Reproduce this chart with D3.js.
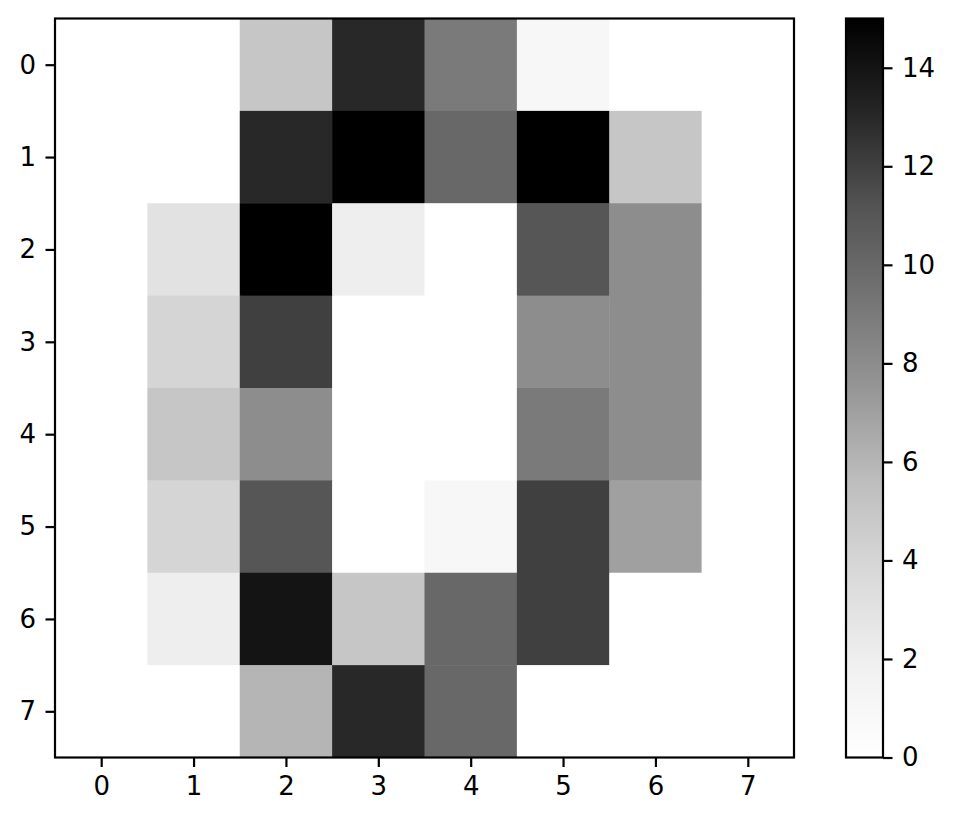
<!DOCTYPE html>
<html><head><meta charset="utf-8">
<script src="https://cdn.jsdelivr.net/npm/d3@7"></script>
<style>body{margin:0;background:#fff}svg{display:block}text{font-family:"DejaVu Sans",sans-serif;fill:#000}</style>
</head><body>
<script>
const rowLabels = [0,1,2,3,4,5,6,7];
const colLabels = [0,1,2,3,4,5,6,7];
const pixels = [
  [0,0,5,13,9,1,0,0],
  [0,0,13,15,10,15,5,0],
  [0,3,15,2,0,11,8,0],
  [0,4,12,0,0,8,8,0],
  [0,5,8,0,0,9,8,0],
  [0,4,11,0,1,12,7,0],
  [0,2,14,5,10,12,0,0],
  [0,0,6,13,10,0,0,0]
];
const colorTicks = [0,2,4,6,8,10,12,14];
const vmin = 0, vmax = 15;
const greysStops = ["#ffffff","#f0f0f0","#d9d9d9","#bdbdbd","#969696","#737373","#525252","#252525","#000000"];

const W = 954, H = 822;
const L = 55, T = 18.5, R = 794, B = 757.5;
const FS = "26px", TL = 9.5, TP = 9.5, LW = 2.2;
const svg = d3.select("body").append("svg").attr("width", W).attr("height", H);

const color = d3.scaleLinear()
  .domain(greysStops.map((_, i) => vmin + (vmax - vmin) * i / (greysStops.length - 1)))
  .range(greysStops).interpolate(d3.interpolateRgb).clamp(true);

const x = d3.scaleLinear().domain([-0.5, 7.5]).range([L, R]);
const y = d3.scaleLinear().domain([-0.5, 7.5]).range([T, B]);

const cells = [];
pixels.forEach((row, r) => row.forEach((v, c) => cells.push({r, c, v})));
svg.append("g").selectAll("rect").data(cells).join("rect")
  .attr("x", d => x(d.c - 0.5)).attr("y", d => y(d.r - 0.5))
  .attr("width", x(1) - x(0) + 0.5).attr("height", y(1) - y(0) + 0.5)
  .attr("fill", d => color(d.v));

function styleAxis(g) {
  g.select(".domain").remove();
  g.selectAll(".tick line").attr("stroke", "#000").attr("stroke-width", LW);
  g.selectAll(".tick text").style("font-family", '"DejaVu Sans",sans-serif').style("font-size", FS).attr("fill", "#000");
}
const xAxis = d3.axisBottom(x).tickValues(colLabels).tickSize(TL).tickPadding(TP).tickFormat(d3.format("d"));
const yAxis = d3.axisLeft(y).tickValues(rowLabels).tickSize(TL).tickPadding(TP).tickFormat(d3.format("d"));
const gx = svg.append("g").attr("transform", `translate(0,${B})`).call(xAxis);
const gy = svg.append("g").attr("transform", `translate(${L},0)`).call(yAxis);
styleAxis(gx); styleAxis(gy);
svg.append("rect").attr("x", L).attr("y", T).attr("width", R - L).attr("height", B - T)
  .attr("fill", "none").attr("stroke", "#000").attr("stroke-width", LW);

// colorbar
const CL = 846, CR = 883;
const cy = d3.scaleLinear().domain([vmin, vmax]).range([B, T]);
const defs = svg.append("defs");
const grad = defs.append("linearGradient").attr("id", "cbar").attr("x1", 0).attr("y1", 1).attr("x2", 0).attr("y2", 0);
greysStops.forEach((c, i) => grad.append("stop").attr("offset", i / (greysStops.length - 1)).attr("stop-color", c));
svg.append("rect").attr("x", CL).attr("y", T).attr("width", CR - CL).attr("height", B - T).attr("fill", "url(#cbar)");
const cAxis = d3.axisRight(cy).tickValues(colorTicks).tickSize(TL).tickPadding(TP).tickFormat(d3.format("d"));
const gc = svg.append("g").attr("transform", `translate(${CR},0)`).call(cAxis);
styleAxis(gc);
svg.append("rect").attr("x", CL).attr("y", T).attr("width", CR - CL).attr("height", B - T)
  .attr("fill", "none").attr("stroke", "#000").attr("stroke-width", LW);
</script>
</body></html>
